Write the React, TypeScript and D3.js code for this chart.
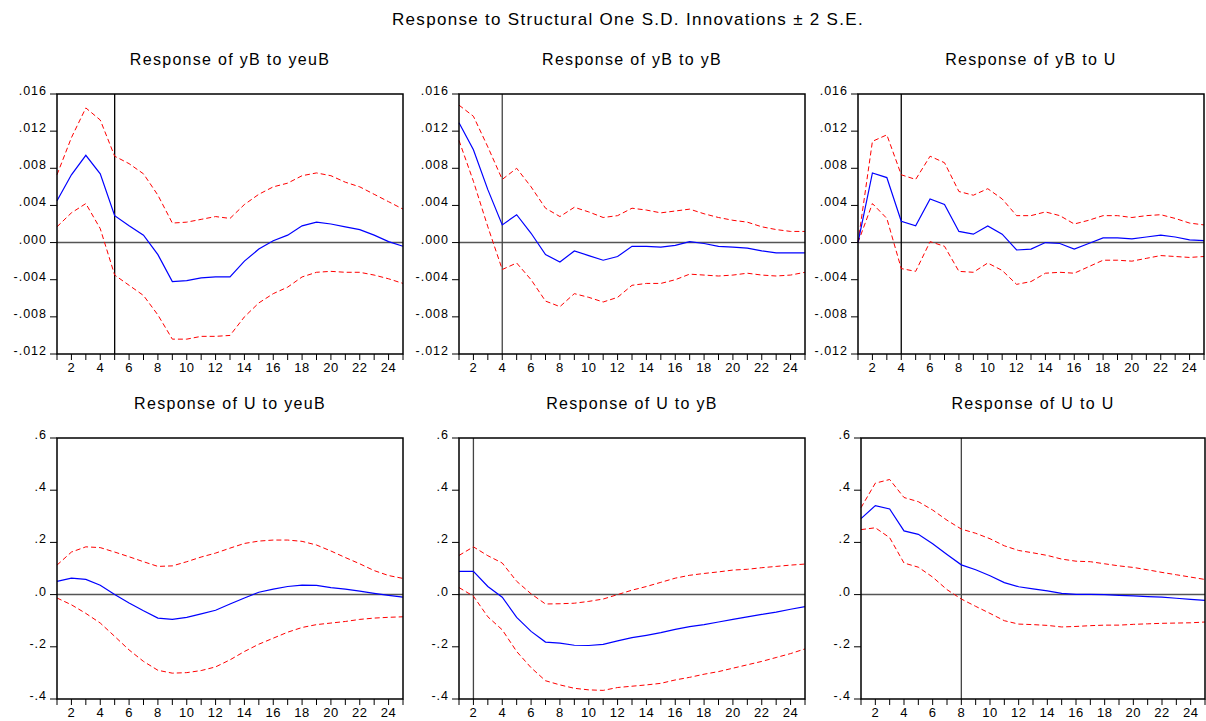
import React from 'react';
import * as d3 from 'd3';

// periods on the horizontal axis
const periods = [1, 2, 3, 4, 5, 6, 7, 8, 9, 10, 11, 12, 13, 14, 15, 16, 17, 18, 19, 20, 21, 22, 23, 24, 25];
const xTickLabels = [2, 4, 6, 8, 10, 12, 14, 16, 18, 20, 22, 24];

const yTicksTop = [0.016, 0.012, 0.008, 0.004, 0, -0.004, -0.008, -0.012];
const yTickLabelsTop = ['.016', '.012', '.008', '.004', '.000', '-.004', '-.008', '-.012'];
const yTicksBottom = [0.6, 0.4, 0.2, 0, -0.2, -0.4];
const yTickLabelsBottom = ['.6', '.4', '.2', '.0', '-.2', '-.4'];

// Response of yB to yeuB
const yB_yeuB = [0.0045, 0.0073, 0.0094, 0.0074, 0.0029, 0.0018, 0.0008, -0.0013, -0.0042, -0.0041, -0.0038, -0.0037, -0.0037, -0.0020, -0.0007, 0.0002, 0.0008, 0.0018, 0.0022, 0.0020, 0.0017, 0.0014, 0.0008, 0.0001, -0.0004];
const yB_yeuB_hi = [0.0073, 0.0113, 0.0145, 0.0132, 0.0093, 0.0085, 0.0074, 0.0051, 0.0021, 0.0022, 0.0025, 0.0028, 0.0026, 0.0041, 0.0052, 0.0060, 0.0064, 0.0072, 0.0075, 0.0072, 0.0065, 0.0060, 0.0052, 0.0044, 0.0036];
const yB_yeuB_lo = [0.0017, 0.0032, 0.0042, 0.0015, -0.0035, -0.0046, -0.0057, -0.0078, -0.0104, -0.0104, -0.0101, -0.0101, -0.0100, -0.0080, -0.0065, -0.0055, -0.0048, -0.0037, -0.0032, -0.0031, -0.0032, -0.0032, -0.0035, -0.0039, -0.0044];

// Response of yB to yB
const yB_yB = [0.0129, 0.0100, 0.0057, 0.0019, 0.0030, 0.0010, -0.0013, -0.0021, -0.0009, -0.0014, -0.0019, -0.0015, -0.0004, -0.0004, -0.0005, -0.0003, 0.0001, -0.0001, -0.0004, -0.0005, -0.0006, -0.0009, -0.0011, -0.0011, -0.0011];
const yB_yB_hi = [0.0148, 0.0136, 0.0103, 0.0068, 0.0080, 0.0060, 0.0037, 0.0028, 0.0038, 0.0033, 0.0027, 0.0029, 0.0037, 0.0035, 0.0032, 0.0034, 0.0036, 0.0031, 0.0027, 0.0024, 0.0022, 0.0017, 0.0014, 0.0012, 0.0012];
const yB_yB_lo = [0.0110, 0.0066, 0.0017, -0.0029, -0.0022, -0.0040, -0.0063, -0.0069, -0.0055, -0.0059, -0.0064, -0.0059, -0.0046, -0.0044, -0.0044, -0.0040, -0.0034, -0.0035, -0.0036, -0.0035, -0.0033, -0.0035, -0.0036, -0.0035, -0.0032];

// Response of yB to U
const yB_U = [0.0, 0.0075, 0.0070, 0.0023, 0.0018, 0.0047, 0.0041, 0.0012, 0.0009, 0.0018, 0.0009, -0.0008, -0.0007, 0.0000, -0.0001, -0.0007, -0.0001, 0.0005, 0.0005, 0.0004, 0.0006, 0.0008, 0.0006, 0.0003, 0.0002];
const yB_U_hi = [0.0, 0.0109, 0.0116, 0.0073, 0.0068, 0.0093, 0.0086, 0.0055, 0.0051, 0.0058, 0.0047, 0.0029, 0.0029, 0.0033, 0.0029, 0.0020, 0.0024, 0.0029, 0.0029, 0.0027, 0.0029, 0.0030, 0.0026, 0.0021, 0.0019];
const yB_U_lo = [0.0, 0.0042, 0.0026, -0.0028, -0.0031, 0.0001, -0.0004, -0.0031, -0.0032, -0.0022, -0.0030, -0.0045, -0.0042, -0.0033, -0.0032, -0.0033, -0.0026, -0.0019, -0.0019, -0.0020, -0.0017, -0.0014, -0.0015, -0.0016, -0.0015];

// Response of U to yeuB
const U_yeuB = [0.051, 0.063, 0.058, 0.036, 0.0, -0.032, -0.062, -0.090, -0.095, -0.087, -0.074, -0.060, -0.036, -0.013, 0.009, 0.021, 0.031, 0.036, 0.035, 0.027, 0.021, 0.013, 0.005, -0.003, -0.010];
const U_yeuB_hi = [0.113, 0.163, 0.183, 0.180, 0.163, 0.145, 0.126, 0.108, 0.110, 0.126, 0.144, 0.159, 0.178, 0.196, 0.205, 0.209, 0.209, 0.204, 0.190, 0.167, 0.142, 0.118, 0.092, 0.073, 0.062];
const U_yeuB_lo = [-0.013, -0.039, -0.072, -0.109, -0.160, -0.212, -0.256, -0.290, -0.301, -0.299, -0.291, -0.277, -0.250, -0.218, -0.190, -0.167, -0.144, -0.126, -0.115, -0.109, -0.103, -0.095, -0.090, -0.087, -0.085];

// Response of U to yB
const U_yB = [0.089, 0.089, 0.031, -0.010, -0.087, -0.141, -0.182, -0.186, -0.194, -0.195, -0.191, -0.177, -0.165, -0.156, -0.146, -0.133, -0.123, -0.115, -0.105, -0.095, -0.085, -0.076, -0.067, -0.056, -0.046];
const U_yB_hi = [0.150, 0.183, 0.149, 0.121, 0.051, 0.003, -0.036, -0.035, -0.033, -0.026, -0.017, 0.0, 0.017, 0.031, 0.047, 0.063, 0.074, 0.081, 0.087, 0.094, 0.097, 0.103, 0.108, 0.113, 0.117];
const U_yB_lo = [0.027, -0.006, -0.085, -0.135, -0.218, -0.280, -0.330, -0.346, -0.359, -0.365, -0.367, -0.356, -0.351, -0.346, -0.340, -0.327, -0.317, -0.305, -0.295, -0.282, -0.269, -0.256, -0.241, -0.226, -0.208];

// Response of U to U
const U_U = [0.291, 0.341, 0.328, 0.244, 0.231, 0.195, 0.154, 0.114, 0.095, 0.072, 0.046, 0.030, 0.022, 0.014, 0.005, 0.001, 0.001, 0.0, -0.003, -0.005, -0.008, -0.010, -0.014, -0.018, -0.022];
const U_U_hi = [0.333, 0.427, 0.441, 0.372, 0.356, 0.324, 0.285, 0.251, 0.235, 0.214, 0.187, 0.169, 0.160, 0.150, 0.136, 0.128, 0.126, 0.118, 0.110, 0.104, 0.095, 0.085, 0.076, 0.067, 0.058];
const U_U_lo = [0.249, 0.256, 0.218, 0.121, 0.105, 0.067, 0.019, -0.017, -0.045, -0.072, -0.100, -0.113, -0.115, -0.118, -0.124, -0.122, -0.119, -0.117, -0.117, -0.114, -0.112, -0.110, -0.109, -0.108, -0.105];

const panels = [
  { title: 'Response of yB to yeuB', resp: yB_yeuB, hi: yB_yeuB_hi, lo: yB_yeuB_lo, marker: 5, row: 0, left: 57, width: 346, markerColor: '#000' },
  { title: 'Response of yB to yB', resp: yB_yB, hi: yB_yB_hi, lo: yB_yB_lo, marker: 4, row: 0, left: 459, width: 346, markerColor: '#444' },
  { title: 'Response of yB to U', resp: yB_U, hi: yB_U_hi, lo: yB_U_lo, marker: 4, row: 0, left: 858, width: 346, markerColor: '#000' },
  { title: 'Response of U to yeuB', resp: U_yeuB, hi: U_yeuB_hi, lo: U_yeuB_lo, marker: null, row: 1, left: 57, width: 346, markerColor: '#444' },
  { title: 'Response of U to yB', resp: U_yB, hi: U_yB_hi, lo: U_yB_lo, marker: 2, row: 1, left: 459, width: 346, markerColor: '#444' },
  { title: 'Response of U to U', resp: U_U, hi: U_U_hi, lo: U_U_lo, marker: 8, row: 1, left: 861, width: 344, markerColor: '#444' },
];

const rowTop = [94, 438];
const rowHeight = [260, 261];
const font = 'Arial, "Liberation Sans", Helvetica, sans-serif';

function Panel({ p }: { p: any }) {
  const top = rowTop[p.row];
  const h = rowHeight[p.row];
  const ticks = p.row === 0 ? yTicksTop : yTicksBottom;
  const tickLabels = p.row === 0 ? yTickLabelsTop : yTickLabelsBottom;

  const x = d3.scaleLinear().domain([1, 25]).range([p.left, p.left + p.width]);
  const y = d3.scaleLinear()
    .domain([ticks[ticks.length - 1], ticks[0]])
    .range([top + h, top]);

  const line = d3.line<number>()
    .x((_, i) => x(periods[i]))
    .y(d => y(d));

  const bottom = top + h;

  return (
    <g>
      <text x={p.left + p.width / 2} y={top - 29} textAnchor="middle" fontSize={16} letterSpacing={1.3} fontFamily={font} fill="#000">
        {p.title}
      </text>

      {/* zero line */}
      <line x1={p.left} x2={p.left + p.width} y1={y(0)} y2={y(0)} stroke="#555" strokeWidth={1.5} />

      {/* vertical marker */}
      {p.marker !== null && (
        <line x1={x(p.marker)} x2={x(p.marker)} y1={top} y2={bottom} stroke={p.markerColor} strokeWidth={1.3} />
      )}

      <path d={line(p.hi) || ''} fill="none" stroke="#ff0000" strokeWidth={1} strokeDasharray="5,3" />
      <path d={line(p.lo) || ''} fill="none" stroke="#ff0000" strokeWidth={1} strokeDasharray="5,3" />
      <path d={line(p.resp) || ''} fill="none" stroke="#0000ff" strokeWidth={1.2} />

      {/* frame */}
      <rect x={p.left} y={top} width={p.width} height={h} fill="none" stroke="#000" strokeWidth={1.5} />

      {/* y axis ticks */}
      {ticks.map((t: number, i: number) => (
        <g key={'y' + i}>
          <line x1={p.left - 7} x2={p.left} y1={y(t)} y2={y(t)} stroke="#000" strokeWidth={1} />
          <text x={p.left - 10} y={y(t) + 1} textAnchor="end" fontSize={12.5} letterSpacing={1} fontFamily={font} fill="#000">
            {tickLabels[i]}
          </text>
        </g>
      ))}

      {/* x axis ticks */}
      {periods.map(t => (
        <line key={'x' + t} x1={x(t)} x2={x(t)} y1={bottom} y2={bottom + 6} stroke="#000" strokeWidth={1} />
      ))}
      {xTickLabels.map(t => (
        <text key={'xl' + t} x={x(t)} y={bottom + 18} textAnchor="middle" fontSize={13} letterSpacing={0.5} fontFamily={font} fill="#000">
          {t}
        </text>
      ))}
    </g>
  );
}

export default function App() {
  return (
    <svg width={1206} height={721} style={{ position: 'absolute', left: 0, top: 0, background: '#fff' }}>
      <rect x={0} y={0} width={1206} height={721} fill="#fff" />
      <text x={628} y={25} textAnchor="middle" fontSize={17} letterSpacing={1.3} fontFamily={font} fill="#000">
        Response to Structural One S.D. Innovations ± 2 S.E.
      </text>
      {panels.map((p, i) => (
        <Panel key={i} p={p} />
      ))}
    </svg>
  );
}
